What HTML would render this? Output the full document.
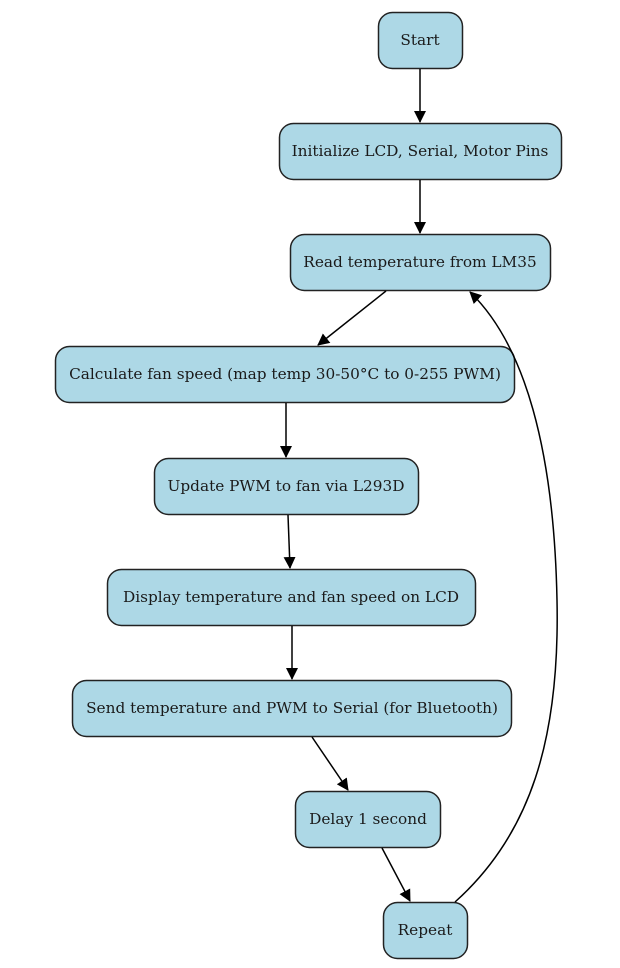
<!DOCTYPE html>
<html><head><style>body{margin:0;background:#fff}</style></head><body>
<svg width="620" height="963" xmlns="http://www.w3.org/2000/svg" font-family="DejaVu Serif, Liberation Serif, serif" font-size="15.3">
<defs><marker id="a" markerWidth="12" markerHeight="12" refX="11" refY="6" orient="auto" markerUnits="userSpaceOnUse"><path d="M0,0 L12,6 L0,12 z" fill="#000"/></marker></defs>
<g fill="#add8e6" stroke="#222" stroke-width="1.5">
<rect x="378.5" y="12.5" width="84" height="56" rx="14"/>
<rect x="279.5" y="123.5" width="282" height="56" rx="14"/>
<rect x="290.5" y="234.5" width="260" height="56" rx="14"/>
<rect x="55.5" y="346.5" width="459" height="56" rx="14"/>
<rect x="154.5" y="458.5" width="264" height="56" rx="14"/>
<rect x="107.5" y="569.5" width="368" height="56" rx="14"/>
<rect x="72.5" y="680.5" width="439" height="56" rx="14"/>
<rect x="295.5" y="791.5" width="145" height="56" rx="14"/>
<rect x="383.5" y="902.5" width="84" height="56" rx="14"/>
</g>
<g stroke="#000" stroke-width="1.5" fill="none" marker-end="url(#a)">
<line x1="420" y1="69" x2="420" y2="122"/>
<line x1="420" y1="180" x2="420" y2="233"/>
<line x1="386" y1="291" x2="318" y2="345"/>
<line x1="286" y1="403" x2="286" y2="457"/>
<line x1="288" y1="515" x2="290" y2="568"/>
<line x1="292" y1="626" x2="292" y2="679"/>
<line x1="312" y1="737" x2="348" y2="790"/>
<line x1="382" y1="848" x2="410" y2="901"/>
<path d="M455,902 C530,835 560,740 557,600 C554,450 525,345 470,292"/>
</g>
<g fill="#1a1a1a" text-anchor="middle">
<text x="420" y="45">Start</text>
<text x="420" y="156">Initialize LCD, Serial, Motor Pins</text>
<text x="420" y="267">Read temperature from LM35</text>
<text x="285" y="379">Calculate fan speed (map temp 30-50°C to 0-255 PWM)</text>
<text x="286" y="491">Update PWM to fan via L293D</text>
<text x="291" y="602">Display temperature and fan speed on LCD</text>
<text x="292" y="713">Send temperature and PWM to Serial (for Bluetooth)</text>
<text x="368" y="824">Delay 1 second</text>
<text x="425" y="935">Repeat</text>
</g>
</svg>
</body></html>
